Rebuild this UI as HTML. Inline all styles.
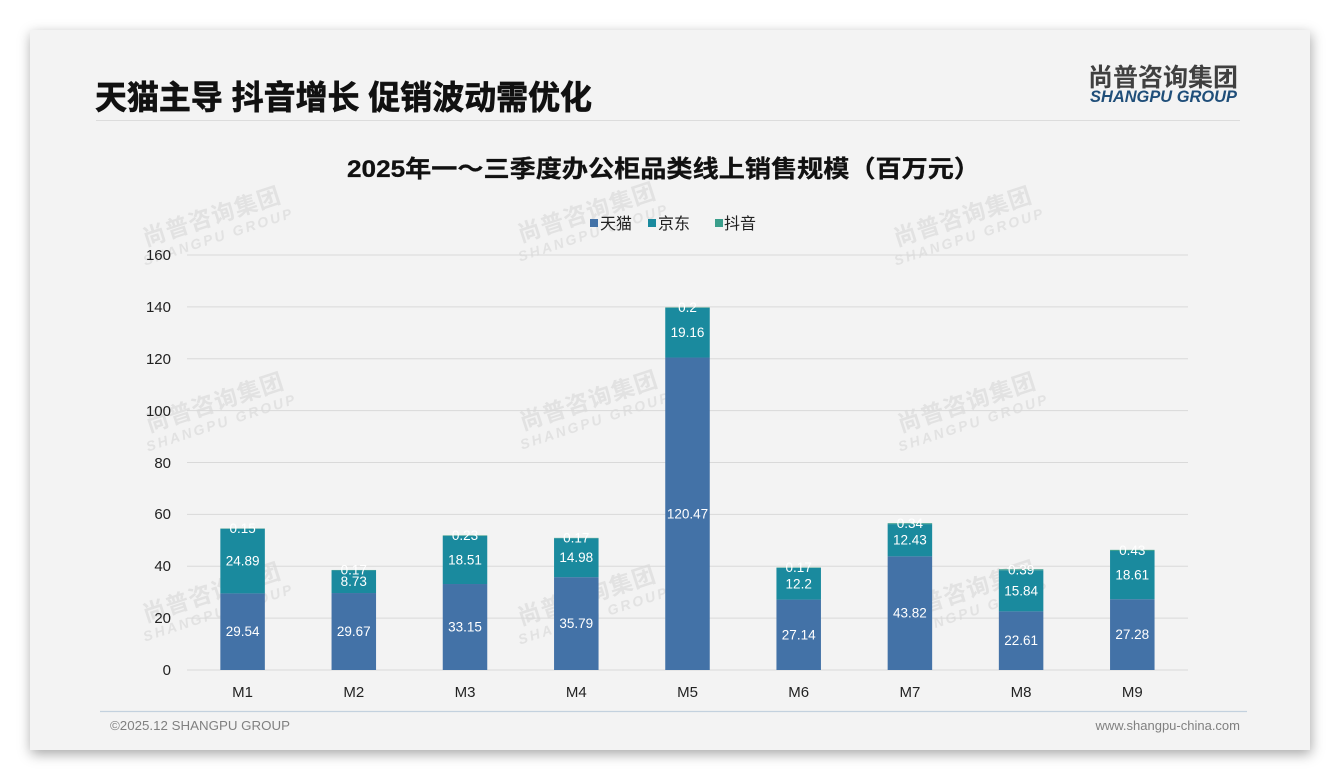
<!DOCTYPE html>
<html><head><meta charset="utf-8"><style>
html,body{margin:0;padding:0;background:#fff;width:1340px;height:780px;overflow:hidden}
.card{position:absolute;left:30px;top:30px;width:1280px;height:720px;background:#f3f3f3;box-shadow:1px 4px 12px rgba(0,0,0,0.35)}
svg{position:absolute;left:0;top:0}
text{font-family:"Liberation Sans","Noto Sans CJK SC",sans-serif}
</style></head><body>
<div class="card"></div>
<svg width="1340" height="780" viewBox="0 0 1340 780" xmlns="http://www.w3.org/2000/svg">
<!-- header -->
<text x="95" y="109" font-size="33" font-weight="bold" fill="#111" stroke="#111" stroke-width="0.7" textLength="497" lengthAdjust="spacingAndGlyphs">天猫主导 抖音增长 促销波动需优化</text>
<line x1="96" y1="120.5" x2="1240" y2="120.5" stroke="#dcdcdc" stroke-width="1"/>
<text x="1088" y="86" font-size="25" font-weight="bold" fill="#404040" textLength="150" lengthAdjust="spacingAndGlyphs">尚普咨询集团</text>
<text x="1090" y="102" font-size="17" font-weight="bold" font-style="italic" fill="#1f4e79" textLength="147" lengthAdjust="spacingAndGlyphs">SHANGPU GROUP</text>

<!-- watermarks -->
<g fill="#e2e2e2" font-weight="bold" text-anchor="middle">
<g transform="translate(215,226) rotate(-18)"><text y="-2" font-size="23" letter-spacing="1">尚普咨询集团</text><text y="16" font-size="14" font-style="italic" letter-spacing="2.5">SHANGPU GROUP</text></g>
<g transform="translate(590,222) rotate(-18)"><text y="-2" font-size="23" letter-spacing="1">尚普咨询集团</text><text y="16" font-size="14" font-style="italic" letter-spacing="2.5">SHANGPU GROUP</text></g>
<g transform="translate(966,226) rotate(-18)"><text y="-2" font-size="23" letter-spacing="1">尚普咨询集团</text><text y="16" font-size="14" font-style="italic" letter-spacing="2.5">SHANGPU GROUP</text></g>
<g transform="translate(218,412) rotate(-18)"><text y="-2" font-size="23" letter-spacing="1">尚普咨询集团</text><text y="16" font-size="14" font-style="italic" letter-spacing="2.5">SHANGPU GROUP</text></g>
<g transform="translate(592,410) rotate(-18)"><text y="-2" font-size="23" letter-spacing="1">尚普咨询集团</text><text y="16" font-size="14" font-style="italic" letter-spacing="2.5">SHANGPU GROUP</text></g>
<g transform="translate(970,412) rotate(-18)"><text y="-2" font-size="23" letter-spacing="1">尚普咨询集团</text><text y="16" font-size="14" font-style="italic" letter-spacing="2.5">SHANGPU GROUP</text></g>
<g transform="translate(215,602) rotate(-18)"><text y="-2" font-size="23" letter-spacing="1">尚普咨询集团</text><text y="16" font-size="14" font-style="italic" letter-spacing="2.5">SHANGPU GROUP</text></g>
<g transform="translate(590,605) rotate(-18)"><text y="-2" font-size="23" letter-spacing="1">尚普咨询集团</text><text y="16" font-size="14" font-style="italic" letter-spacing="2.5">SHANGPU GROUP</text></g>
<g transform="translate(970,600) rotate(-18)"><text y="-2" font-size="23" letter-spacing="1">尚普咨询集团</text><text y="16" font-size="14" font-style="italic" letter-spacing="2.5">SHANGPU GROUP</text></g>
</g>

<!-- chart title -->
<text x="347" y="177" font-size="24" font-weight="bold" fill="#111" stroke="#111" stroke-width="0.3" textLength="633" lengthAdjust="spacingAndGlyphs">2025年一～三季度办公柜品类线上销售规模（百万元）</text>

<!-- legend -->
<rect x="590" y="219" width="8" height="8" fill="#4372a7"/>
<text x="600" y="229" font-size="16" fill="#222">天猫</text>
<rect x="648" y="219" width="8" height="8" fill="#1a8a9e"/>
<text x="658" y="229" font-size="16" fill="#222">京东</text>
<rect x="715" y="219" width="8" height="8" fill="#3a9e8b"/>
<text x="724" y="229" font-size="16" fill="#222">抖音</text>

<!-- grid -->
<g stroke="#d9d9d9" stroke-width="1">
<line x1="187" y1="255" x2="1188" y2="255"/>
<line x1="187" y1="306.9" x2="1188" y2="306.9"/>
<line x1="187" y1="358.8" x2="1188" y2="358.8"/>
<line x1="187" y1="410.6" x2="1188" y2="410.6"/>
<line x1="187" y1="462.5" x2="1188" y2="462.5"/>
<line x1="187" y1="514.4" x2="1188" y2="514.4"/>
<line x1="187" y1="566.3" x2="1188" y2="566.3"/>
<line x1="187" y1="618.1" x2="1188" y2="618.1"/>
<line x1="187" y1="670" x2="1188" y2="670"/>
</g>
<g font-size="15" fill="#222" text-anchor="end">
<text x="171" y="260">160</text>
<text x="171" y="312">140</text>
<text x="171" y="364">120</text>
<text x="171" y="416">100</text>
<text x="171" y="468">80</text>
<text x="171" y="519">60</text>
<text x="171" y="571">40</text>
<text x="171" y="623">20</text>
<text x="171" y="675">0</text>
</g>

<!-- bars -->
<g>
<rect x="220.35" y="593.38" width="44.5" height="76.62" fill="#4372a7"/>
<rect x="220.35" y="528.82" width="44.5" height="64.56" fill="#1a8a9e"/>
<rect x="220.35" y="528.43" width="44.5" height="0.39" fill="#3a9e8b"/>
<rect x="331.55" y="593.04" width="44.5" height="76.96" fill="#4372a7"/>
<rect x="331.55" y="570.40" width="44.5" height="22.64" fill="#1a8a9e"/>
<rect x="331.55" y="569.96" width="44.5" height="0.44" fill="#3a9e8b"/>
<rect x="442.75" y="584.02" width="44.5" height="85.98" fill="#4372a7"/>
<rect x="442.75" y="536.01" width="44.5" height="48.01" fill="#1a8a9e"/>
<rect x="442.75" y="535.41" width="44.5" height="0.60" fill="#3a9e8b"/>
<rect x="554.05" y="577.17" width="44.5" height="92.83" fill="#4372a7"/>
<rect x="554.05" y="538.32" width="44.5" height="38.85" fill="#1a8a9e"/>
<rect x="554.05" y="537.88" width="44.5" height="0.44" fill="#3a9e8b"/>
<rect x="665.25" y="357.53" width="44.5" height="312.47" fill="#4372a7"/>
<rect x="665.25" y="307.83" width="44.5" height="49.70" fill="#1a8a9e"/>
<rect x="665.25" y="307.31" width="44.5" height="0.52" fill="#3a9e8b"/>
<rect x="776.45" y="599.60" width="44.5" height="70.40" fill="#4372a7"/>
<rect x="776.45" y="567.96" width="44.5" height="31.64" fill="#1a8a9e"/>
<rect x="776.45" y="567.52" width="44.5" height="0.44" fill="#3a9e8b"/>
<rect x="887.65" y="556.34" width="44.5" height="113.66" fill="#4372a7"/>
<rect x="887.65" y="524.10" width="44.5" height="32.24" fill="#1a8a9e"/>
<rect x="887.65" y="523.22" width="44.5" height="0.88" fill="#3a9e8b"/>
<rect x="998.85" y="611.35" width="44.5" height="58.65" fill="#4372a7"/>
<rect x="998.85" y="570.26" width="44.5" height="41.09" fill="#1a8a9e"/>
<rect x="998.85" y="569.25" width="44.5" height="1.01" fill="#3a9e8b"/>
<rect x="1110.05" y="599.24" width="44.5" height="70.76" fill="#4372a7"/>
<rect x="1110.05" y="550.97" width="44.5" height="48.27" fill="#1a8a9e"/>
<rect x="1110.05" y="549.85" width="44.5" height="1.12" fill="#3a9e8b"/>
</g>

<!-- data labels -->
<g font-size="13.5" fill="#ffffff" text-anchor="middle" dominant-baseline="central">
<text x="242.6" y="631.7">29.54</text><text x="242.6" y="561.1">24.89</text><text x="242.6" y="528.6">0.15</text>
<text x="353.8" y="631.5">29.67</text><text x="353.8" y="581.7">8.73</text><text x="353.8" y="570.2">0.17</text>
<text x="465.0" y="627.0">33.15</text><text x="465.0" y="560.0">18.51</text><text x="465.0" y="535.7">0.23</text>
<text x="576.3" y="623.6">35.79</text><text x="576.3" y="557.7">14.98</text><text x="576.3" y="538.1">0.17</text>
<text x="687.5" y="513.8">120.47</text><text x="687.5" y="332.7">19.16</text><text x="687.5" y="307.6">0.2</text>
<text x="798.7" y="634.8">27.14</text><text x="798.7" y="583.8">12.2</text><text x="798.7" y="567.7">0.17</text>
<text x="909.9" y="613.2">43.82</text><text x="909.9" y="540.2">12.43</text><text x="909.9" y="523.7">0.34</text>
<text x="1021.1" y="640.7">22.61</text><text x="1021.1" y="590.8">15.84</text><text x="1021.1" y="569.8">0.39</text>
<text x="1132.3" y="634.6">27.28</text><text x="1132.3" y="575.1">18.61</text><text x="1132.3" y="550.4">0.43</text>
</g>

<!-- x labels -->
<g font-size="15" fill="#222" text-anchor="middle">
<text x="242.6" y="697">M1</text>
<text x="353.8" y="697">M2</text>
<text x="465.0" y="697">M3</text>
<text x="576.3" y="697">M4</text>
<text x="687.5" y="697">M5</text>
<text x="798.7" y="697">M6</text>
<text x="909.9" y="697">M7</text>
<text x="1021.1" y="697">M8</text>
<text x="1132.3" y="697">M9</text>
</g>

<!-- footer -->
<line x1="100" y1="711.5" x2="1247" y2="711.5" stroke="#c3d1de" stroke-width="1.2"/>
<text x="110" y="730" font-size="13" fill="#808080" textLength="180" lengthAdjust="spacingAndGlyphs">©2025.12 SHANGPU GROUP</text>
<text x="1240" y="730" font-size="13" fill="#808080" text-anchor="end">www.shangpu-china.com</text>
</svg>
</body></html>
